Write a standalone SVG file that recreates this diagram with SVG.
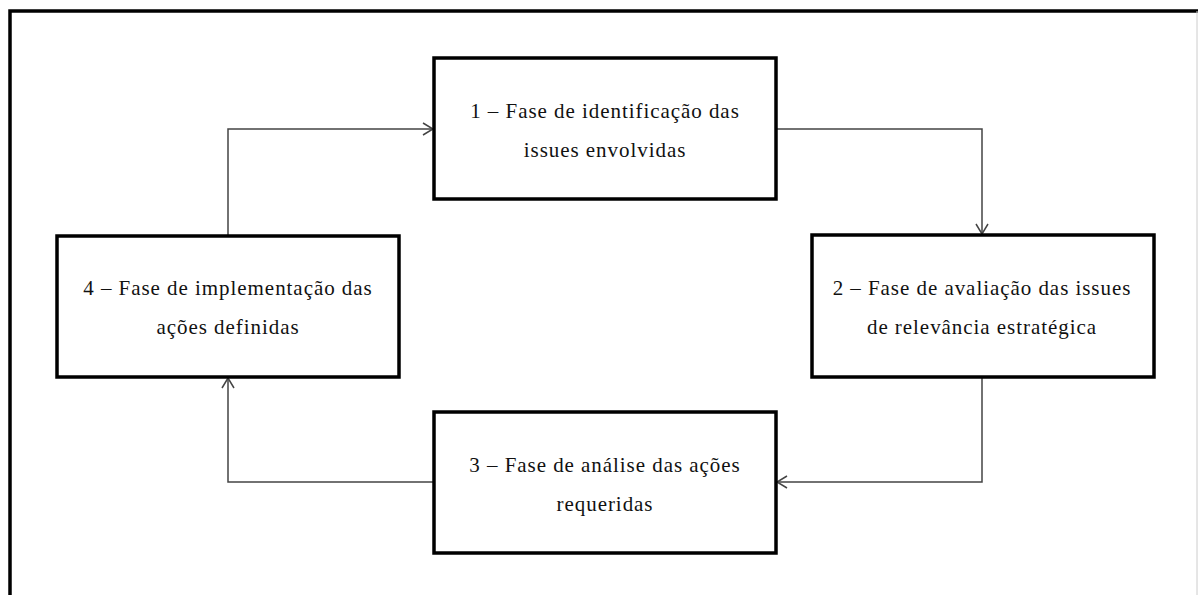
<svg xmlns="http://www.w3.org/2000/svg" width="1198" height="595" viewBox="0 0 1198 595">
<style>
.box{fill:#fff;stroke:#000;stroke-width:3.5}
.t{font-family:"Liberation Serif","Times New Roman",serif;font-size:21px;fill:#111;text-anchor:middle;letter-spacing:0.95px}
.c{fill:none;stroke:#444;stroke-width:1.5}
.ah{fill:none;stroke:#444;stroke-width:1.5}
</style>
<defs>
<marker id="arr" viewBox="0 0 12 14" refX="11" refY="7" markerWidth="12" markerHeight="14" markerUnits="userSpaceOnUse" orient="auto">
<path class="ah" d="M1,1 L11,7 L1,13"/>
</marker>
</defs>
<rect width="1198" height="595" fill="#fff"/>
<g id="frame">
<path d="M10,595 V11 H1198" fill="none" stroke="#000" stroke-width="3.5"/>
<line x1="1197" y1="11" x2="1197" y2="595" stroke="#ccc" stroke-width="1"/>
</g>
<g id="connectors">
<path class="c" d="M776,129 H982 V234" marker-end="url(#arr)"/>
<path class="c" d="M982,377 V482 H777" marker-end="url(#arr)"/>
<path class="c" d="M434,482 H228 V378" marker-end="url(#arr)"/>
<path class="c" d="M228,236 V129 H433" marker-end="url(#arr)"/>
</g>
<g id="node1">
<rect class="box" x="434" y="58" width="342" height="141"/>
<text class="t" x="605" y="118">1 – Fase de identificação das</text>
<text class="t" x="605" y="157">issues envolvidas</text>
</g>
<g id="node2">
<rect class="box" x="812" y="235" width="342" height="142"/>
<text class="t" x="982" y="295">2 – Fase de avaliação das issues</text>
<text class="t" x="982" y="334">de relevância estratégica</text>
</g>
<g id="node3">
<rect class="box" x="434" y="412" width="342" height="141"/>
<text class="t" x="605" y="472">3 – Fase de análise das ações</text>
<text class="t" x="605" y="511">requeridas</text>
</g>
<g id="node4">
<rect class="box" x="57" y="236" width="342" height="141"/>
<text class="t" x="228" y="295">4 – Fase de implementação das</text>
<text class="t" x="228" y="334">ações definidas</text>
</g>
</svg>
